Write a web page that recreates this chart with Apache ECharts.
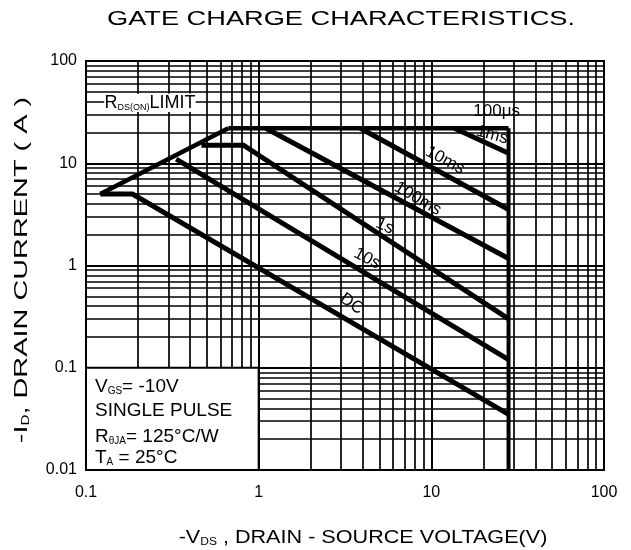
<!DOCTYPE html>
<html>
<head>
<meta charset="utf-8">
<script src="https://cdn.jsdelivr.net/npm/echarts@6/dist/echarts.min.js"></script>
<style>html,body{margin:0;padding:0;background:#fff}#c{width:631px;height:550px}</style>
</head>
<body>
<div id="c"></div>
<script>
// ---- data ----
const xTicks = [0.1, 1, 10, 100];
const xTickLabels = ['0.1', '1', '10', '100'];
const yTicks = [0.01, 0.1, 1, 10, 100];
const yTickLabels = ['0.01', '0.1', '1', '10', '100'];
const xMinorGrid = [0.2,0.3,0.4,0.5,0.6,0.7,0.8,0.9, 2,3,4,5,6,7,8,9, 20,30,40,50,60,70,80,90];
const yMinorGrid = [0.02,0.03,0.04,0.05,0.06,0.07,0.08,0.09, 0.2,0.3,0.4,0.5,0.6,0.7,0.8,0.9,
                    2,3,4,5,6,7,8,9, 20,30,40,50,60,70,80,90];

const rdsLimit     = [[0.121, 5], [0.667, 22]];
const plateau100us = [[0.667, 22], [28, 22]];
const curve1ms     = [[13.6, 22], [28, 12.5]];
const curve10ms    = [[3.88, 22], [28, 3.53]];
const curve100ms   = [[1.10, 22], [28, 1.17]];
const curve1s      = [[0.466, 15], [0.817, 15], [28, 0.30]];
const curve10s     = [[0.333, 11], [28, 0.12]];
const curveDC      = [[0.121, 5], [0.186, 5], [28, 0.035]];
const vdsLimit     = [[28, 22], [28, 0.01]];

const curveNames  = ['100μs', '1ms', '10ms', '100ms', '1s', '10s', 'DC'];
const curveLabelX = [23.9, 22.5, 12.0, 8.35, 5.38, 4.24, 3.46];
const curveLabelY = [32, 18.9, 10.7, 4.5, 2.43, 1.17, 0.42];
const curveLabelRot = [0, -15, -28, -30, -25, -28, -35];

// ---- chart ----
const FONT = 'Liberation Sans, Arial, sans-serif';
const chart = echarts.init(document.getElementById('c'), null, {renderer: 'canvas'});

function tickFmt(ticks, labels) {
  return function (v) {
    for (let i = 0; i < ticks.length; i++) {
      if (Math.abs(Math.log10(v) - Math.log10(ticks[i])) < 1e-6) return labels[i];
    }
    return '';
  };
}

function curve(data, width) {
  return {
    type: 'line', data: data, symbol: 'none', silent: true, z: 5,
    lineStyle: {color: '#000', width: width, cap: 'butt', join: 'miter'},
    animation: false
  };
}

const gridMarks = [];
xMinorGrid.forEach(v => gridMarks.push({xAxis: v}));
yMinorGrid.forEach(v => gridMarks.push({yAxis: v}));

const option = {
  backgroundColor: '#fff',
  animation: false,
  grid: {left: 86, right: 27, top: 61, bottom: 80, show: true, borderColor: '#000', borderWidth: 2, z: 20},
  xAxis: {
    type: 'log', logBase: 10, min: 0.1, max: 100,
    axisLine: {show: true, lineStyle: {color: '#000', width: 2}},
    axisTick: {show: false},
    splitLine: {show: true, lineStyle: {color: '#000', width: 2}},
    axisLabel: {color: '#000', fontSize: 16, fontFamily: FONT, margin: 15, formatter: tickFmt(xTicks, xTickLabels)}
  },
  yAxis: {
    type: 'log', logBase: 10, min: 0.01, max: 100,
    axisLine: {show: true, lineStyle: {color: '#000', width: 2}},
    axisTick: {show: false},
    splitLine: {show: true, lineStyle: {color: '#000', width: 2}},
    axisLabel: {color: '#000', fontSize: 16, fontFamily: FONT, margin: 9, formatter: tickFmt(yTicks, yTickLabels)}
  },
  series: [
    {
      type: 'line', data: [], silent: true, z: 1, symbol: 'none',
      markLine: {
        silent: true, symbol: ['none', 'none'], animation: false,
        label: {show: false},
        lineStyle: {color: '#000', width: 1.7, type: 'solid'},
        emphasis: {disabled: true},
        data: gridMarks
      }
    },
    curve(rdsLimit, 4.5),
    curve(plateau100us, 4.5),
    curve(curve1ms, 5),
    curve(curve10ms, 5),
    curve(curve100ms, 5),
    curve(curve1s, 5),
    curve(curve10s, 5),
    curve(curveDC, 5),
    curve(vdsLimit, 4)
  ]
};
chart.setOption(option);

function px(x, y) { return chart.convertToPixel({xAxisIndex: 0, yAxisIndex: 0}, [x, y]); }

const graphics = [];
// title
graphics.push({
  type: 'text', x: 341, y: 19, scaleX: 1.36, z: 50,
  style: {text: 'GATE CHARGE CHARACTERISTICS.', fill: '#000', font: '20px ' + FONT, align: 'center', verticalAlign: 'middle'}
});
// y axis title
graphics.push({
  type: 'text', x: 22, y: 270, rotation: Math.PI / 2, scaleX: 1.52, z: 50,
  style: {
    text: '{m|-I}{s|D}{m|, DRAIN CURRENT ( A )}', align: 'center', verticalAlign: 'middle', fill: '#000',
    rich: {m: {fontSize: 19, fontFamily: FONT, fill: '#000'}, s: {fontSize: 10, fontFamily: FONT, fill: '#000', verticalAlign: 'bottom'}}
  }
});
// x axis title
graphics.push({
  type: 'text', x: 363, y: 538, scaleX: 1.2, z: 50,
  style: {
    text: '{m|-V}{s|DS}{m| , DRAIN - SOURCE VOLTAGE(V)}', align: 'center', verticalAlign: 'middle', fill: '#000',
    rich: {m: {fontSize: 18, fontFamily: FONT, fill: '#000'}, s: {fontSize: 10, fontFamily: FONT, fill: '#000', verticalAlign: 'bottom'}}
  }
});
// RDS(ON) LIMIT
const rl = px(0.128, 39);
graphics.push({
  type: 'text', x: rl[0], y: rl[1], z: 50,
  style: {
    text: '{m|R}{s|DS(ON)}{m|LIMIT}', align: 'left', verticalAlign: 'middle', fill: '#000',
    backgroundColor: '#fff',
    rich: {m: {fontSize: 18, fontFamily: FONT, fill: '#000', backgroundColor: '#fff'}, s: {fontSize: 9, fontFamily: FONT, fill: '#000', verticalAlign: 'bottom', backgroundColor: '#fff'}}
  }
});
// curve labels
for (let i = 0; i < curveNames.length; i++) {
  const p = px(curveLabelX[i], curveLabelY[i]);
  graphics.push({
    type: 'text', x: p[0], y: p[1], rotation: curveLabelRot[i] * Math.PI / 180, z: 50,
    style: {text: curveNames[i], fill: '#000', font: '17px ' + FONT, align: 'center', verticalAlign: 'middle'}
  });
}
// info box
const b0 = px(0.1, 0.1), b1 = px(1, 0.01);
const bx = b0[0], by = b0[1], bw = b1[0] - b0[0], bh = b1[1] - b0[1];
graphics.push({
  type: 'rect', shape: {x: bx, y: by, width: bw, height: bh}, z: 30,
  style: {fill: '#fff', stroke: '#000', lineWidth: 2}
});
const richBox = {
  m: {fontSize: 19, fontFamily: FONT, fill: '#000'},
  s: {fontSize: 10, fontFamily: FONT, fill: '#000', verticalAlign: 'bottom'}
};
const boxLines = ['{m|V}{s|GS}{m|= -10V}', '{m|SINGLE PULSE}', '{m|R}{s|θJA}{m|= 125°C/W}', '{m|T}{s|A}{m| = 25°C}'];
const boxOffsets = [19, 43, 69, 90];
boxLines.forEach((t, i) => {
  graphics.push({
    type: 'text', x: bx + 9, y: by + boxOffsets[i], z: 40,
    style: {text: t, align: 'left', verticalAlign: 'middle', fill: '#000', rich: richBox}
  });
});

chart.setOption({graphic: graphics});
</script>
</body>
</html>
